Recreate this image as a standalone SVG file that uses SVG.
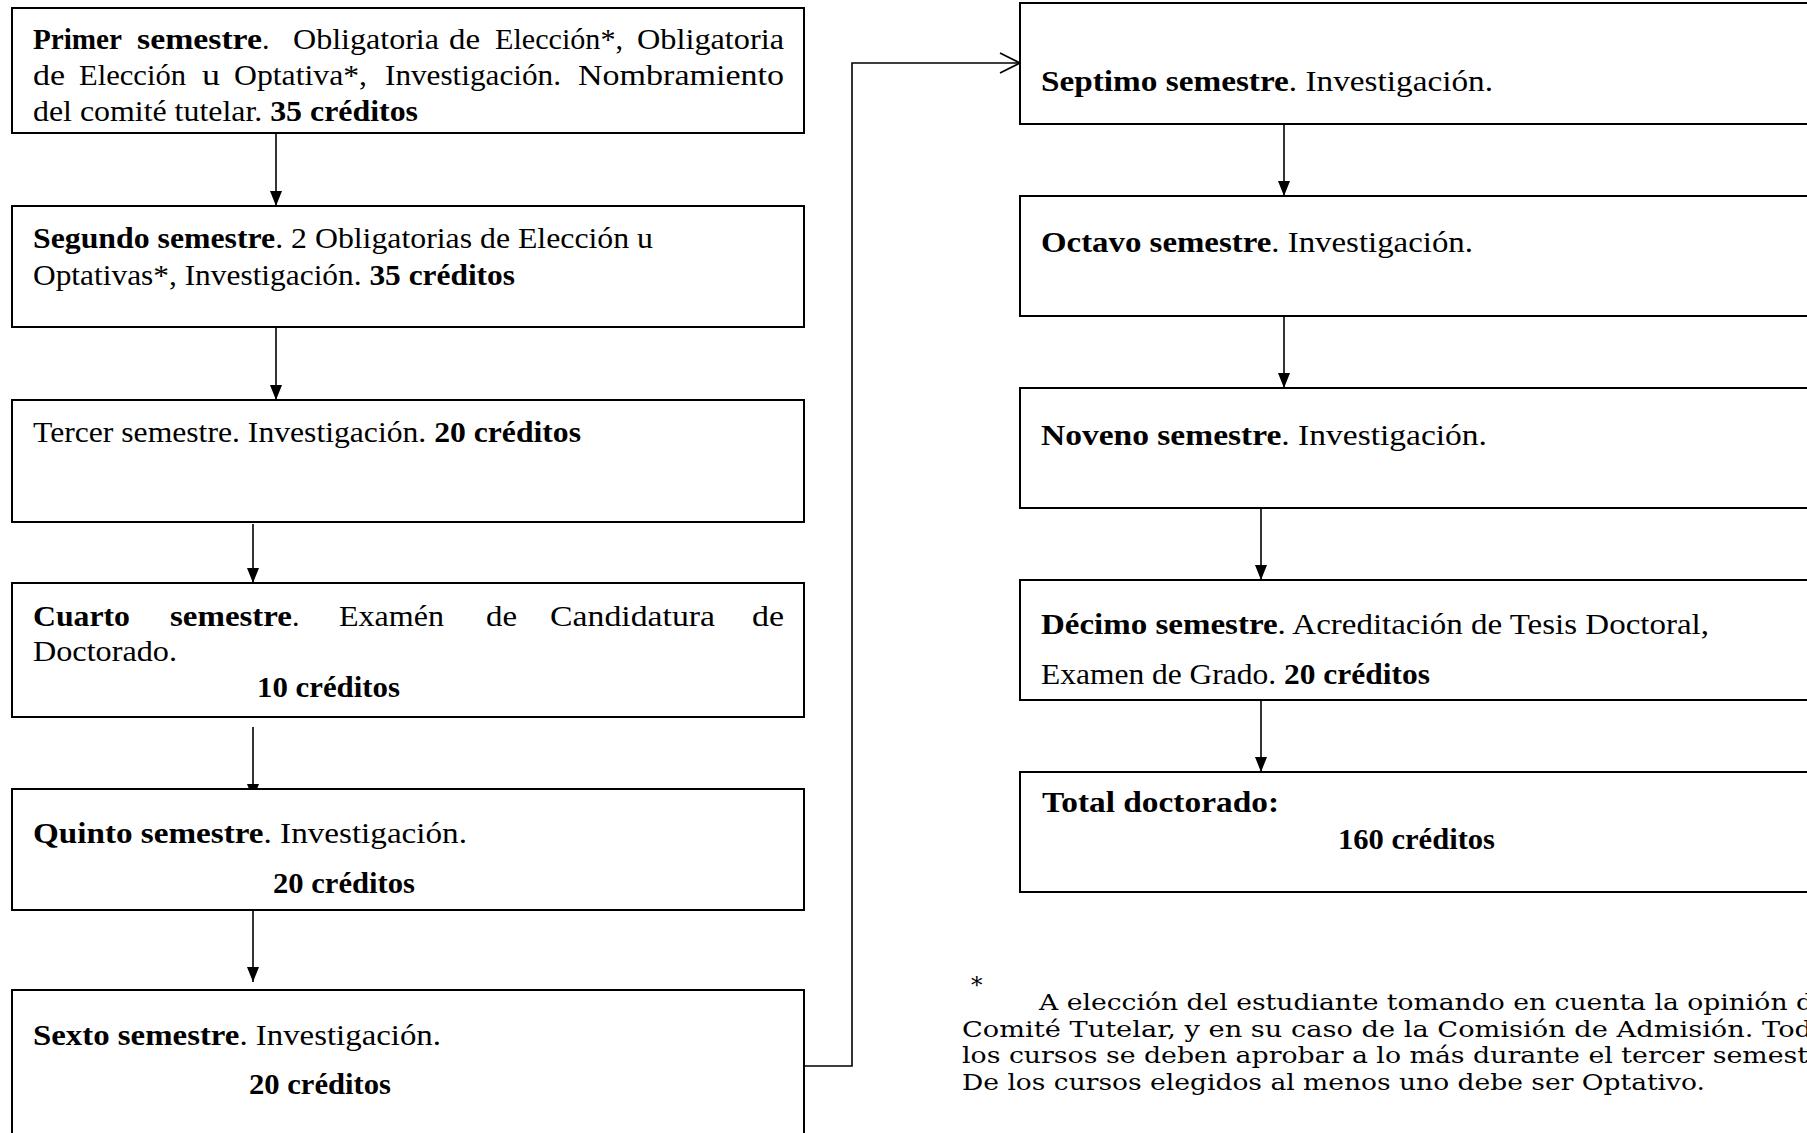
<svg xmlns="http://www.w3.org/2000/svg" width="1807" height="1133" viewBox="0 0 1807 1133">
<style>
.box{fill:#fff;stroke:#000;stroke-width:2}
.t{font-family:"Liberation Serif","Times New Roman",serif;font-size:30px;fill:#000}
.b{font-weight:bold}
.fn{font-family:"DejaVu Serif","Liberation Serif",serif;font-size:23px;fill:#000}
.conn{stroke:#000;stroke-width:1.6;fill:none}
</style>
<defs>
<marker id="ah" viewBox="0 0 15 12" refX="15" refY="6" markerWidth="15" markerHeight="12" markerUnits="userSpaceOnUse" orient="auto">
<path d="M0,0 L15,6 L0,12 z" fill="#000"/>
</marker>
</defs>
<rect width="1807" height="1133" fill="#fff"/>

<g id="connectors">
<line class="conn" x1="276" y1="133" x2="276" y2="206" marker-end="url(#ah)"/>
<line class="conn" x1="276" y1="328" x2="276" y2="400" marker-end="url(#ah)"/>
<line class="conn" x1="253" y1="524" x2="253" y2="583" marker-end="url(#ah)"/>
<line class="conn" x1="253" y1="727" x2="253" y2="799" marker-end="url(#ah)"/>
<line class="conn" x1="253" y1="911" x2="253" y2="982" marker-end="url(#ah)"/>
<polyline class="conn" points="804,1066 852,1066 852,63 1019,63"/>
<polyline class="conn" points="1000,53 1020,63 1000,73"/>
<line class="conn" x1="1284" y1="124" x2="1284" y2="196" marker-end="url(#ah)"/>
<line class="conn" x1="1284" y1="316" x2="1284" y2="388" marker-end="url(#ah)"/>
<line class="conn" x1="1261" y1="508" x2="1261" y2="580" marker-end="url(#ah)"/>
<line class="conn" x1="1261" y1="700" x2="1261" y2="772" marker-end="url(#ah)"/>
</g>

<g id="n1">
<rect class="box" x="12" y="8" width="792" height="125"/>
<text class="t" y="49"><tspan class="b" x="33" textLength="89" lengthAdjust="spacingAndGlyphs">Primer</tspan><tspan class="b" x="137" textLength="125" lengthAdjust="spacingAndGlyphs">semestre</tspan><tspan>.</tspan><tspan x="293" textLength="146" lengthAdjust="spacingAndGlyphs">Obligatoria</tspan><tspan x="449" textLength="31" lengthAdjust="spacingAndGlyphs">de</tspan><tspan x="495" textLength="128" lengthAdjust="spacingAndGlyphs">Elección*,</tspan><tspan x="637" textLength="147" lengthAdjust="spacingAndGlyphs">Obligatoria</tspan></text>
<text class="t" y="85"><tspan x="33" textLength="32" lengthAdjust="spacingAndGlyphs">de</tspan><tspan x="79" textLength="107" lengthAdjust="spacingAndGlyphs">Elección</tspan><tspan x="202" textLength="18" lengthAdjust="spacingAndGlyphs">u</tspan><tspan x="234" textLength="133" lengthAdjust="spacingAndGlyphs">Optativa*,</tspan><tspan x="385" textLength="176" lengthAdjust="spacingAndGlyphs">Investigación.</tspan><tspan x="578" textLength="206" lengthAdjust="spacingAndGlyphs">Nombramiento</tspan></text>
<text class="t" x="33" y="121" textLength="385" lengthAdjust="spacingAndGlyphs">del comité tutelar. <tspan class="b">35 créditos</tspan></text>
</g>

<g id="n2">
<rect class="box" x="12" y="206" width="792" height="121"/>
<text class="t" x="33" y="248" textLength="620" lengthAdjust="spacingAndGlyphs"><tspan class="b">Segundo semestre</tspan>. 2 Obligatorias de Elección u</text>
<text class="t" x="33" y="285" textLength="482" lengthAdjust="spacingAndGlyphs">Optativas*, Investigación. <tspan class="b">35 créditos</tspan></text>
</g>

<g id="n3">
<rect class="box" x="12" y="400" width="792" height="122"/>
<text class="t" x="33" y="442" textLength="548" lengthAdjust="spacingAndGlyphs">Tercer semestre. Investigación. <tspan class="b">20 créditos</tspan></text>
</g>

<g id="n4">
<rect class="box" x="12" y="583" width="792" height="134"/>
<text class="t" y="626"><tspan class="b" x="33" textLength="97" lengthAdjust="spacingAndGlyphs">Cuarto</tspan><tspan class="b" x="170" textLength="122" lengthAdjust="spacingAndGlyphs">semestre</tspan><tspan>.</tspan><tspan x="339" textLength="105" lengthAdjust="spacingAndGlyphs">Examén</tspan><tspan x="486" textLength="31" lengthAdjust="spacingAndGlyphs">de</tspan><tspan x="550" textLength="165" lengthAdjust="spacingAndGlyphs">Candidatura</tspan><tspan x="752" textLength="32" lengthAdjust="spacingAndGlyphs">de</tspan></text>
<text class="t" x="33" y="661" textLength="144" lengthAdjust="spacingAndGlyphs">Doctorado.</text>
<text class="t b" x="257" y="697" textLength="143" lengthAdjust="spacingAndGlyphs">10 créditos</text>
</g>

<g id="n5">
<rect class="box" x="12" y="789" width="792" height="121"/>
<text class="t" x="33" y="843" textLength="434" lengthAdjust="spacingAndGlyphs"><tspan class="b">Quinto semestre</tspan>. Investigación.</text>
<text class="t b" x="273" y="893" textLength="142" lengthAdjust="spacingAndGlyphs">20 créditos</text>
</g>

<g id="n6">
<rect class="box" x="12" y="990" width="792" height="160"/>
<text class="t" x="33" y="1045" textLength="408" lengthAdjust="spacingAndGlyphs"><tspan class="b">Sexto semestre</tspan>. Investigación.</text>
<text class="t b" x="249" y="1094" textLength="142" lengthAdjust="spacingAndGlyphs">20 créditos</text>
</g>

<g id="n7">
<rect class="box" x="1020" y="3" width="820" height="121"/>
<text class="t" x="1041" y="91" textLength="452" lengthAdjust="spacingAndGlyphs"><tspan class="b">Septimo semestre</tspan>. Investigación.</text>
</g>

<g id="n8">
<rect class="box" x="1020" y="196" width="820" height="120"/>
<text class="t" x="1041" y="252" textLength="432" lengthAdjust="spacingAndGlyphs"><tspan class="b">Octavo semestre</tspan>. Investigación.</text>
</g>

<g id="n9">
<rect class="box" x="1020" y="388" width="820" height="120"/>
<text class="t" x="1041" y="445" textLength="446" lengthAdjust="spacingAndGlyphs"><tspan class="b">Noveno semestre</tspan>. Investigación.</text>
</g>

<g id="n10">
<rect class="box" x="1020" y="580" width="820" height="120"/>
<text class="t" x="1041" y="634" textLength="668" lengthAdjust="spacingAndGlyphs"><tspan class="b">Décimo semestre</tspan>. Acreditación de Tesis Doctoral,</text>
<text class="t" x="1041" y="684" textLength="389" lengthAdjust="spacingAndGlyphs">Examen de Grado. <tspan class="b">20 créditos</tspan></text>
</g>

<g id="n11">
<rect class="box" x="1020" y="772" width="820" height="120"/>
<text class="t b" x="1042" y="812" textLength="237" lengthAdjust="spacingAndGlyphs">Total doctorado:</text>
<text class="t b" x="1338" y="849" textLength="157" lengthAdjust="spacingAndGlyphs">160 créditos</text>
</g>

<g id="footnote">
<text class="fn" x="971" y="993" font-size="17">*</text>
<text class="fn" x="1039" y="1010" textLength="774" lengthAdjust="spacingAndGlyphs">A elección del estudiante tomando en cuenta la opinión d</text>
<text class="fn" x="962" y="1037" textLength="850" lengthAdjust="spacingAndGlyphs">Comité Tutelar, y en su caso de la Comisión de Admisión. Tod</text>
<text class="fn" x="962" y="1063" textLength="846" lengthAdjust="spacingAndGlyphs">los cursos se deben aprobar a lo más durante el tercer semest</text>
<text class="fn" x="962" y="1090" textLength="743" lengthAdjust="spacingAndGlyphs">De los cursos elegidos al menos uno debe ser Optativo.</text>
</g>
</svg>
